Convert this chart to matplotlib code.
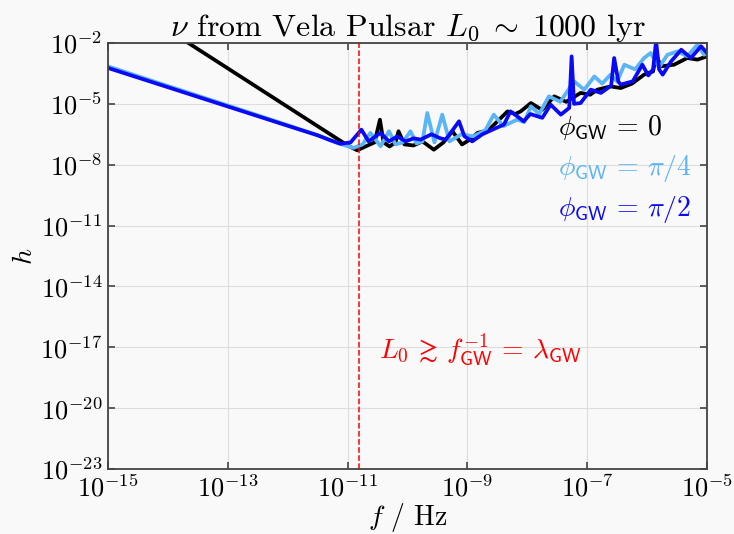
import numpy as np
import matplotlib
matplotlib.use("Agg")
import matplotlib.pyplot as plt

plt.rcParams['mathtext.fontset'] = 'cm'
plt.rcParams['font.family'] = 'serif'
plt.rcParams['font.serif'] = ['cmr10', 'DejaVu Serif']
plt.rcParams['axes.formatter.use_mathtext'] = True
plt.rcParams['axes.unicode_minus'] = False

# log10(f / Hz) and log10(h)
logf_black = [-15.0, -14.0, -13.0, -12.0, -11.5, -11.2, -11.0, -10.84, -10.7, -10.55, -10.46, -10.4,
              -10.3, -10.2, -10.15, -10.05, -9.9, -9.75, -9.56, -9.4, -9.25, -9.09, -8.95, -8.83,
              -8.65, -8.47, -8.33, -8.2, -8.11, -7.94, -7.75, -7.55, -7.35, -7.11, -6.95, -6.83,
              -6.61, -6.44, -6.25, -6.05, -5.9, -5.85, -5.77, -5.55, -5.33, -5.16, -5.0]
logh_black = [0.55, -1.35, -3.25, -5.15, -6.1, -6.67, -7.05, -7.29, -7.1, -6.9, -5.78, -6.9,
              -7.1, -6.9, -6.35, -7.0, -7.05, -6.85, -7.26, -6.9, -6.35, -7.0, -6.75, -6.43,
              -6.3, -5.78, -5.37, -5.5, -5.37, -4.96, -5.3, -4.63, -4.9, -4.46, -4.55, -4.30,
              -4.14, -4.22, -4.0, -3.56, -3.4, -2.58, -3.15, -3.07, -2.74, -2.82, -2.66]

logf_lblue = [-15.0, -14.0, -13.0, -12.0, -11.5, -11.15, -10.9, -10.75, -10.62, -10.45, -10.31, -10.2,
              -10.08, -9.95, -9.85, -9.75, -9.67, -9.55, -9.42, -9.3, -9.1, -8.9, -8.7, -8.56,
              -8.4, -8.17, -8.05, -7.94, -7.8, -7.64, -7.45, -7.22, -7.05, -6.88, -6.75, -6.61,
              -6.5, -6.38, -6.2, -6.05, -5.94, -5.8, -5.66, -5.49, -5.33, -5.16, -5.05, -5.0]
logh_lblue = [-3.15, -4.12, -5.08, -6.05, -6.55, -6.95, -7.17, -7.0, -6.43, -7.09, -6.35, -7.0,
              -6.9, -6.35, -6.95, -6.85, -5.45, -6.9, -5.53, -6.85, -6.5, -6.6, -6.3, -5.53,
              -6.1, -5.78, -5.9, -5.12, -5.5, -4.63, -4.9, -3.89, -4.3, -3.65, -4.0, -3.56,
              -3.9, -3.07, -3.3, -2.74, -2.49, -3.2, -2.58, -2.41, -2.66, -2.08, -2.58, -2.5]

logf_blue = [-15.0, -14.0, -13.0, -12.0, -11.5, -11.3, -11.12, -10.95, -10.77, -10.65, -10.45, -10.31,
             -10.17, -10.03, -9.9, -9.78, -9.6, -9.45, -9.36, -9.14, -9.05, -8.92, -8.75, -8.58,
             -8.39, -8.28, -8.17, -8.06, -7.95, -7.75, -7.61, -7.44, -7.3, -7.26, -7.22, -7.11,
             -6.94, -6.77, -6.6, -6.55, -6.48, -6.44, -6.24, -6.08, -5.98, -5.9, -5.85, -5.8,
             -5.74, -5.6, -5.43, -5.27, -5.1, -5.0]
logh_blue = [-3.23, -4.18, -5.13, -6.08, -6.55, -6.78, -6.97, -6.9, -6.27, -6.85, -6.43, -6.85,
             -6.6, -6.85, -6.7, -6.76, -6.5, -6.7, -6.76, -5.86, -6.6, -6.85, -6.5, -6.27,
             -6.02, -5.37, -5.61, -5.86, -5.5, -5.69, -5.04, -5.53, -5.2, -2.66, -5.0, -4.96,
             -4.30, -4.46, -4.1, -2.74, -3.9, -4.05, -3.89, -3.07, -3.6, -3.3, -1.9, -3.3,
             -3.56, -2.91, -2.33, -2.74, -2.16, -2.49]

f_cut = 1.58e-11
x_ticks = [1e-15, 1e-13, 1e-11, 1e-9, 1e-7, 1e-5]
y_ticks = [1e-23, 1e-20, 1e-17, 1e-14, 1e-11, 1e-8, 1e-5, 1e-2]

bg = '#f9f9f9'
fig = plt.figure(figsize=(7.34, 5.34), dpi=100, facecolor=bg)
ax = fig.add_axes([108/734, 1-469/534, 599/734, 426/534], facecolor=bg)

ax.plot(10**np.array(logf_black), 10**np.array(logh_black), color='black', lw=2.7,
        label=r'$\phi_{\mathsf{GW}}\,=\,0$')
ax.plot(10**np.array(logf_lblue), 10**np.array(logh_lblue), color='#5ab4f5', lw=2.7,
        label=r'$\phi_{\mathsf{GW}}\,=\,\pi/4$')
ax.plot(10**np.array(logf_blue), 10**np.array(logh_blue), color='#0a0af5', lw=2.7,
        label=r'$\phi_{\mathsf{GW}}\,=\,\pi/2$')
ax.axvline(f_cut, color='red', ls='--', lw=1.1)

ax.set_xscale('log')
ax.set_yscale('log')
ax.set_xlim(1e-15, 1e-5)
ax.set_ylim(1e-23, 1e-2)
ax.set_xticks(x_ticks)
ax.set_yticks(y_ticks)
ax.minorticks_off()
ax.grid(True, color='#dddddd', lw=0.8)
ax.tick_params(direction='in', top=True, right=True, length=5, width=1.2, labelsize=19,
               color='#444444', pad=4)
for s in ax.spines.values():
    s.set_color('#444444')
    s.set_linewidth(1.3)

ax.set_xlabel(r'$f$ / Hz', fontsize=20, labelpad=0)
ax.set_ylabel(r'$h$', fontsize=20, labelpad=2)
ax.set_title(r'$\nu$ from Vela Pulsar $L_0\;\sim\;1000$ lyr', fontsize=23, pad=5)

ax.text(10**-10.47, 10**-17.1,
        r'$L_0\,\gtrsim\,f_{\mathsf{GW}}^{-1}\,=\,\lambda_{\mathsf{GW}}$',
        color='red', fontsize=20, va='center', ha='left')

leg = ax.legend(loc='upper left', bbox_to_anchor=(0.71, 0.893), frameon=False, handlelength=0,
                handletextpad=0, labelcolor='linecolor', fontsize=20, labelspacing=0.38)
for h in leg.legend_handles:
    h.set_visible(False)

fig.savefig('out.png', dpi=100, facecolor=bg)
